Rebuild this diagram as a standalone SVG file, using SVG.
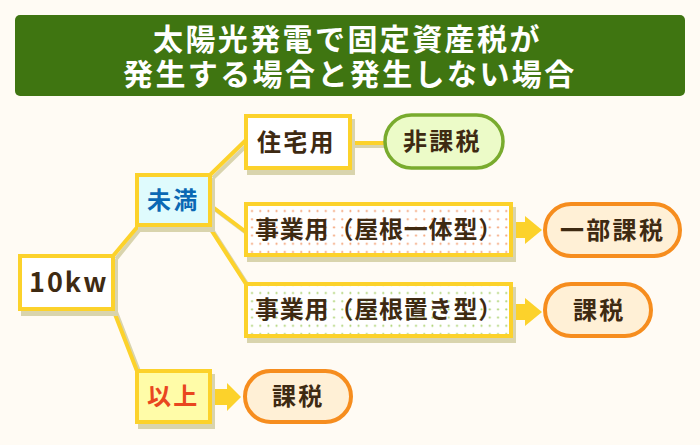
<svg xmlns="http://www.w3.org/2000/svg" width="700" height="445" viewBox="0 0 700 445">
<defs>
<pattern id="dotsO" patternUnits="userSpaceOnUse" x="2" y="2" width="8.2" height="8.2"><rect width="8.2" height="8.2" fill="#ffffff"/><circle cx="4" cy="4" r="1" fill="#f39a6a"/></pattern>
<pattern id="dotsG" patternUnits="userSpaceOnUse" x="2" y="2" width="8.2" height="8.2"><rect width="8.2" height="8.2" fill="#ffffff"/><circle cx="4" cy="4" r="1" fill="#a8d06a"/></pattern>
<style>
.t{font-family:"Noto Sans CJK JP","Noto Sans",sans-serif;font-weight:bold;}
.title{fill:#ffffff;font-size:30px;letter-spacing:2.4px;}
.lbl{fill:#3e2a12;font-size:24px;letter-spacing:2.3px;}
.lbl2{fill:#3e2a12;font-size:24px;letter-spacing:0.8px;}
.box{stroke:#fcd22b;stroke-width:4;}
.sh{fill:#d9d4ad;}
.ln{stroke:#fcd22b;stroke-width:4;fill:none;stroke-linecap:round;}
.lnsh{stroke:#d9d4ad;stroke-width:4;fill:none;}
.arr{fill:#fcd22b;}
.pillO{fill:#fff0d6;stroke:#f68d1e;stroke-width:4;}
.pillG{fill:#ecfbc8;stroke:#79ab2e;stroke-width:3.5;}
</style>
</defs>
<rect width="700" height="445" fill="#fffbf4"/>
<g id="title">
<rect x="15" y="15" width="670" height="81" rx="5" fill="#3f7511"/>
<text class="t title"><tspan x="153" y="50">太陽光発電で固定資産税が</tspan><tspan x="123" y="85">発生する場合と発生しない場合</tspan></text>
</g>
<g id="connectors">
<path class="lnsh" d="M116,259 L141,228 M116,312 L140,374 M213,178 L249,143 M213,208 L249,235 M211,228 L249,287 M352,146 L387,146"/>
<path class="ln" d="M113,256 L139,225 M113,309 L137,371 M210,175 L246,140 M210,205 L246,232 M208,225 L246,284 M350,143 L385,143"/>
<g class="arr">
<rect x="513" y="222" width="14" height="16"/><polygon points="525,216 542,230 525,244"/>
<rect x="513" y="304" width="14" height="16"/><polygon points="525,298 542,312 525,326"/>
<rect x="212" y="389" width="16" height="16"/><polygon points="227,383 241,397 227,411"/>
</g>
</g>
<g id="n10kw">
<rect class="sh" x="21" y="259" width="97" height="57"/>
<rect class="box" x="20" y="256" width="93" height="53" fill="#ffffff"/>
<text class="t lbl" x="29" y="292" style="font-size:27px;letter-spacing:2px">10kw</text>
</g>
<g id="miman">
<rect class="sh" x="138" y="178" width="77" height="54"/>
<rect class="box" x="137" y="175" width="73" height="50" fill="#dffbfd"/>
<text class="t lbl" x="147" y="209" style="fill:#0a68b4">未満</text>
</g>
<g id="ijou">
<rect class="sh" x="138" y="374" width="77" height="55"/>
<rect class="box" x="137" y="371" width="73" height="51" fill="#fffca8"/>
<text class="t lbl" x="147" y="405" style="fill:#e9461f">以上</text>
</g>
<g id="jutaku">
<rect class="sh" x="247" y="119" width="108" height="56"/>
<rect class="box" x="246" y="116" width="104" height="52" fill="#ffffff"/>
<text class="t lbl" x="257" y="151">住宅用</text>
</g>
<g id="jigyo1">
<rect class="sh" x="247" y="207" width="269" height="55"/>
<rect class="box" x="246" y="204" width="265" height="51" fill="url(#dotsO)"/>
<text class="t lbl2" x="255" y="238">事業用（屋根一体型）</text>
</g>
<g id="jigyo2">
<rect class="sh" x="247" y="287" width="269" height="56"/>
<rect class="box" x="246" y="284" width="265" height="52" fill="url(#dotsG)"/>
<text class="t lbl2" x="255" y="318">事業用（屋根置き型）</text>
</g>
<g id="hikazei">
<rect class="pillG" x="385" y="115" width="118" height="53" rx="26.5"/>
<text class="t lbl" x="403" y="150">非課税</text>
</g>
<g id="ichibu">
<rect class="pillO" x="545" y="204" width="135" height="52" rx="26"/>
<text class="t lbl" x="560" y="239">一部課税</text>
</g>
<g id="kazei1">
<rect class="pillO" x="545" y="284" width="106" height="52" rx="26"/>
<text class="t lbl" x="573" y="319">課税</text>
</g>
<g id="kazei2">
<rect class="pillO" x="245" y="371" width="106" height="51" rx="25.5"/>
<text class="t lbl" x="272" y="405">課税</text>
</g>
</svg>
